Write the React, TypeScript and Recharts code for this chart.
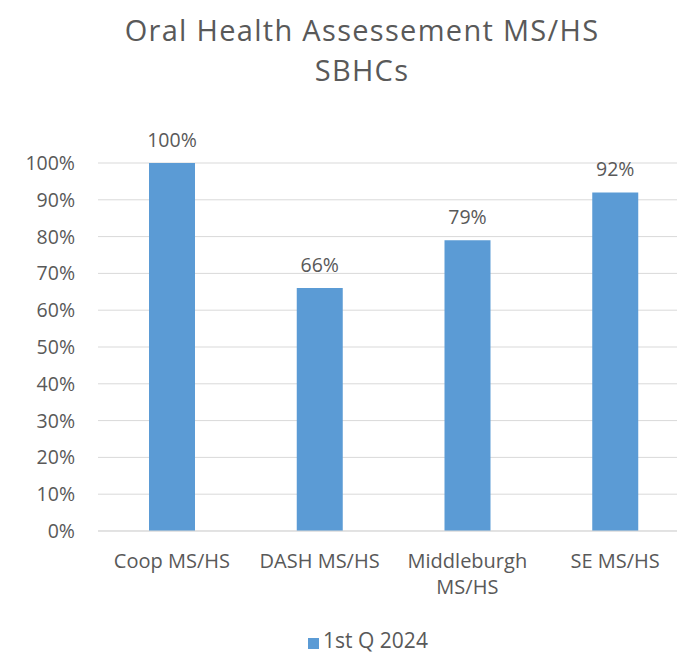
import { BarChart, Bar, XAxis, YAxis, CartesianGrid, Legend, LabelList, Text } from "recharts"

const schools = ["Coop MS/HS", "DASH MS/HS", "Middleburgh MS/HS", "SE MS/HS"]
const q1_2024 = [1.0, 0.66, 0.79, 0.92]
const yTicks = [0, 0.1, 0.2, 0.3, 0.4, 0.5, 0.6, 0.7, 0.8, 0.9, 1.0]

const data = schools.map((name, i) => ({ name, q1: q1_2024[i] }))

const pct = (v: number) => `${Math.round(v * 100)}%`

const grey = "#595959"
const font = "'Open Sans', sans-serif"

const SchoolTick = (props: any) => {
  const { x, y, payload } = props
  return (
    <Text
      x={x}
      y={y}
      width={140}
      textAnchor="middle"
      verticalAnchor="start"
      lineHeight={26}
      fill={grey}
      style={{ fontSize: 20, fontFamily: font }}
    >
      {payload.value}
    </Text>
  )
}

const titleLine = {
  height: 40,
  lineHeight: "40px",
  fontSize: 29,
  letterSpacing: 1.3,
  whiteSpace: "nowrap" as const,
}

export default function App() {
  return (
    <div
      style={{
        position: "absolute",
        top: 0,
        left: 0,
        width: 677,
        height: 653,
        overflow: "hidden",
        background: "#fff",
        fontFamily: font,
      }}
    >
      <div
        style={{
          position: "absolute",
          top: 10,
          left: 0,
          width: 724,
          textAlign: "center",
          color: grey,
        }}
      >
        <div style={titleLine}>Oral Health Assessement MS/HS</div>
        <div style={titleLine}>SBHCs</div>
      </div>
      <BarChart
        width={700}
        height={653}
        data={data}
        margin={{ top: 163, right: 11, bottom: 62, left: 0 }}
        barSize={46}
      >
        <CartesianGrid vertical={false} stroke="#D9D9D9" />
        <XAxis
          dataKey="name"
          axisLine={{ stroke: "#D9D9D9" }}
          tickLine={false}
          tickSize={0}
          tickMargin={23}
          height={60}
          interval={0}
          tick={<SchoolTick />}
        />
        <YAxis
          width={98}
          domain={[0, 1]}
          ticks={yTicks}
          tickFormatter={pct}
          axisLine={false}
          tickLine={false}
          tickSize={0}
          tickMargin={23}
          tick={{ fill: grey, fontSize: 19.5 }}
        />
        <Legend
          verticalAlign="middle"
          align="center"
          iconType="square"
          iconSize={11}
          wrapperStyle={{ top: 626, left: 0, width: 746 }}
          formatter={(v) => <span style={{ color: grey, fontSize: 21 }}>{v}</span>}
        />
        <Bar dataKey="q1" name="1st Q 2024" fill="#5B9BD5" isAnimationActive={false}>
          <LabelList dataKey="q1" position="top" offset={16} formatter={(v: any) => pct(Number(v))} fill={grey} fontSize={19.5} />
        </Bar>
      </BarChart>
    </div>
  )
}
